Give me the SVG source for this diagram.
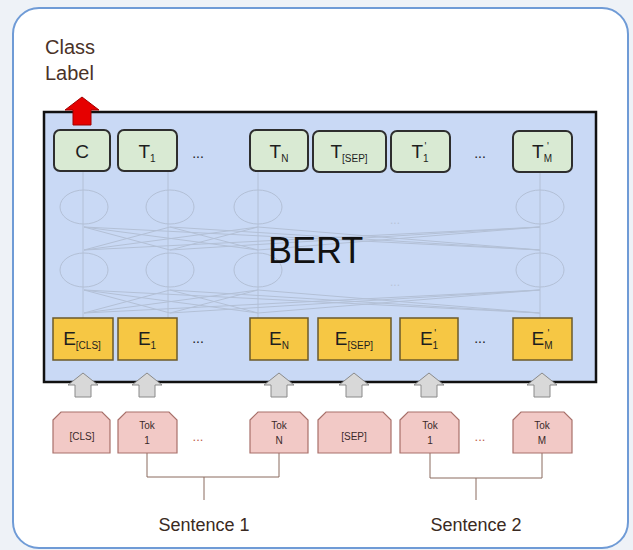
<svg xmlns="http://www.w3.org/2000/svg" width="633" height="550" viewBox="0 0 633 550">
<defs>
<style>
.t{font-family:"Liberation Sans",Arial,sans-serif;}
.tbox{fill:#d9ead3;stroke:#2e2e2e;stroke-width:2;}
.ebox{fill:#f6c744;stroke:#6b5a2a;stroke-width:1.5;}
.tok{fill:#f2c9c6;stroke:#a8706a;stroke-width:1.2;}
.garrow{fill:#d8d8d8;stroke:#8a8a8a;stroke-width:1;}
.net{fill:none;stroke:#b3c0d6;stroke-width:1;}
.lbl{font-size:19px;fill:#1e1e1e;text-anchor:middle;}
.sub{font-size:10px;}
.tk{font-size:10px;fill:#3a2a2a;text-anchor:middle;}
.br{fill:none;stroke:#8a6a5e;stroke-width:1;}
.sent{font-size:18px;fill:#3a2a22;text-anchor:middle;}
</style>
</defs>
<rect x="0" y="0" width="633" height="550" fill="#eef2f7"/>
<rect x="13" y="8" width="615" height="540" rx="26" fill="#ffffff" stroke="#6f9bd6" stroke-width="2"/>

<g id="bert">
<rect x="44" y="112" width="552" height="270" fill="#c9d9f5" stroke="#111" stroke-width="2.5"/>
</g>

<g id="connectors">
<g class="net">
<line x1="83" y1="171" x2="83" y2="318"/>
<line x1="168" y1="171" x2="168" y2="318"/>
<line x1="258" y1="171" x2="258" y2="318"/>
<line x1="540" y1="172" x2="540" y2="318"/>
<ellipse cx="84" cy="207" rx="24" ry="17"/>
<ellipse cx="170" cy="207" rx="24" ry="17"/>
<ellipse cx="258" cy="207" rx="24" ry="17"/>
<ellipse cx="540" cy="207" rx="24" ry="17"/>
<ellipse cx="84" cy="270" rx="24" ry="17"/>
<ellipse cx="170" cy="270" rx="24" ry="17"/>
<ellipse cx="258" cy="270" rx="24" ry="17"/>
<ellipse cx="540" cy="270" rx="24" ry="17"/>
<line x1="84" y1="227" x2="170" y2="250"/>
<line x1="84" y1="227" x2="258" y2="250"/>
<line x1="84" y1="227" x2="540" y2="250"/>
<line x1="170" y1="227" x2="84" y2="250"/>
<line x1="170" y1="227" x2="258" y2="250"/>
<line x1="170" y1="227" x2="540" y2="250"/>
<line x1="258" y1="227" x2="84" y2="250"/>
<line x1="258" y1="227" x2="170" y2="250"/>
<line x1="258" y1="227" x2="540" y2="250"/>
<line x1="540" y1="227" x2="84" y2="250"/>
<line x1="540" y1="227" x2="170" y2="250"/>
<line x1="540" y1="227" x2="258" y2="250"/>
<line x1="84" y1="290" x2="170" y2="313"/>
<line x1="84" y1="290" x2="258" y2="313"/>
<line x1="84" y1="290" x2="540" y2="313"/>
<line x1="170" y1="290" x2="84" y2="313"/>
<line x1="170" y1="290" x2="258" y2="313"/>
<line x1="170" y1="290" x2="540" y2="313"/>
<line x1="258" y1="290" x2="84" y2="313"/>
<line x1="258" y1="290" x2="170" y2="313"/>
<line x1="258" y1="290" x2="540" y2="313"/>
<line x1="540" y1="290" x2="84" y2="313"/>
<line x1="540" y1="290" x2="170" y2="313"/>
<line x1="540" y1="290" x2="258" y2="313"/>
</g>
<text class="t" x="395" y="224" font-size="12" fill="#b8c4d8" text-anchor="middle">...</text>
<text class="t" x="395" y="286" font-size="12" fill="#b8c4d8" text-anchor="middle">...</text>

<g class="br">
<polyline points="147,453 147,477 279,477 279,453"/>
<line x1="204" y1="477" x2="204" y2="500"/>
<polyline points="430,453 430,478 542,478 542,453"/>
<line x1="476" y1="478" x2="476" y2="500"/>
</g>

<g class="garrow">
<path d="M75,397 V385 H68 L83,373 L98,385 H91 V397 Z"/>
<path d="M139,397 V385 H132 L147,373 L162,385 H155 V397 Z"/>
<path d="M271,397 V385 H264 L279,373 L294,385 H287 V397 Z"/>
<path d="M346,397 V385 H339 L354,373 L369,385 H362 V397 Z"/>
<path d="M421,397 V385 H414 L429,373 L444,385 H437 V397 Z"/>
<path d="M534,397 V385 H527 L542,373 L557,385 H550 V397 Z"/>
</g>
<path d="M73,125 V110 H65 L82,97 L99,110 H91 V125 Z" fill="#e60000" stroke="#a00000" stroke-width="1"/>
</g>

<g id="bert-label">
<text class="t" x="268" y="263" font-size="36" fill="#111">BERT</text>
</g>

<g id="class-label">
<text class="t" x="45" y="54" font-size="20" fill="#4a3228">Class</text>
<text class="t" x="45" y="80" font-size="20" fill="#4a3228">Label</text>
</g>

<g id="t-c"><rect class="tbox" x="54" y="130" width="56" height="41" rx="6"/><text class="t lbl" x="82" y="158">C</text></g>
<g id="t-1"><rect class="tbox" x="118" y="130" width="59" height="41" rx="6"/><text class="t lbl" x="147" y="158">T<tspan class="sub" dy="4">1</tspan></text></g>
<g id="t-n"><rect class="tbox" x="250" y="130" width="58" height="41" rx="6"/><text class="t lbl" x="279" y="158">T<tspan class="sub" dy="4">N</tspan></text></g>
<g id="t-sep"><rect class="tbox" x="313" y="131" width="73" height="41" rx="6"/><text class="t lbl" x="349" y="158">T<tspan class="sub" dy="4">[SEP]</tspan></text></g>
<g id="t-1p"><rect class="tbox" x="391" y="131" width="59" height="41" rx="6"/><text class="t lbl" x="420" y="158">T<tspan class="sub" dy="4">1</tspan><tspan class="sub" dx="-4" dy="-12">'</tspan></text></g>
<g id="t-mp"><rect class="tbox" x="513" y="131" width="59" height="41" rx="6"/><text class="t lbl" x="542" y="158">T<tspan class="sub" dy="4">M</tspan><tspan class="sub" dx="-5" dy="-12">'</tspan></text></g>
<text class="t" x="198" y="158" font-size="14" fill="#222" text-anchor="middle">...</text>
<text class="t" x="480" y="158" font-size="14" fill="#222" text-anchor="middle">...</text>

<g id="e-cls"><rect class="ebox" x="53" y="318" width="60" height="42"/><text class="t lbl" x="82" y="345">E<tspan class="sub" dy="4">[CLS]</tspan></text></g>
<g id="e-1"><rect class="ebox" x="118" y="318" width="59" height="42"/><text class="t lbl" x="147" y="345">E<tspan class="sub" dy="4">1</tspan></text></g>
<g id="e-n"><rect class="ebox" x="250" y="318" width="58" height="42"/><text class="t lbl" x="279" y="345">E<tspan class="sub" dy="4">N</tspan></text></g>
<g id="e-sep"><rect class="ebox" x="318" y="318" width="73" height="42"/><text class="t lbl" x="354" y="345">E<tspan class="sub" dy="4">[SEP]</tspan></text></g>
<g id="e-1p"><rect class="ebox" x="400" y="318" width="58" height="42"/><text class="t lbl" x="429" y="345">E<tspan class="sub" dy="4">1</tspan><tspan class="sub" dx="-4" dy="-12">'</tspan></text></g>
<g id="e-mp"><rect class="ebox" x="513" y="318" width="59" height="42"/><text class="t lbl" x="542" y="345">E<tspan class="sub" dy="4">M</tspan><tspan class="sub" dx="-5" dy="-12">'</tspan></text></g>
<text class="t" x="198" y="343" font-size="14" fill="#222" text-anchor="middle">...</text>
<text class="t" x="480" y="343" font-size="14" fill="#222" text-anchor="middle">...</text>

<g id="tok-cls"><path class="tok" d="M53,420 L61,412 H102 L110,420 V453 H53 Z"/><text class="t tk" x="82" y="440">[CLS]</text></g>
<g id="tok-1"><path class="tok" d="M118,420 L126,412 H169 L177,420 V453 H118 Z"/><text class="t tk" x="147" y="429">Tok</text><text class="t tk" x="147" y="444">1</text></g>
<g id="tok-n"><path class="tok" d="M250,420 L258,412 H300 L308,420 V453 H250 Z"/><text class="t tk" x="279" y="429">Tok</text><text class="t tk" x="279" y="444">N</text></g>
<g id="tok-sep"><path class="tok" d="M318,420 L326,412 H383 L391,420 V453 H318 Z"/><text class="t tk" x="354" y="440">[SEP]</text></g>
<g id="tok-1p"><path class="tok" d="M400,420 L408,412 H451 L459,420 V453 H400 Z"/><text class="t tk" x="430" y="429">Tok</text><text class="t tk" x="430" y="444">1</text></g>
<g id="tok-m"><path class="tok" d="M513,420 L521,412 H564 L572,420 V453 H513 Z"/><text class="t tk" x="542" y="429">Tok</text><text class="t tk" x="542" y="444">M</text></g>
<text class="t" x="198" y="441" font-size="13" fill="#c0604a" text-anchor="middle">...</text>
<text class="t" x="480" y="441" font-size="13" fill="#c0604a" text-anchor="middle">...</text>

<g id="sentences">
<text class="t sent" x="204" y="531">Sentence 1</text>
<text class="t sent" x="476" y="531">Sentence 2</text>
</g>
</svg>
